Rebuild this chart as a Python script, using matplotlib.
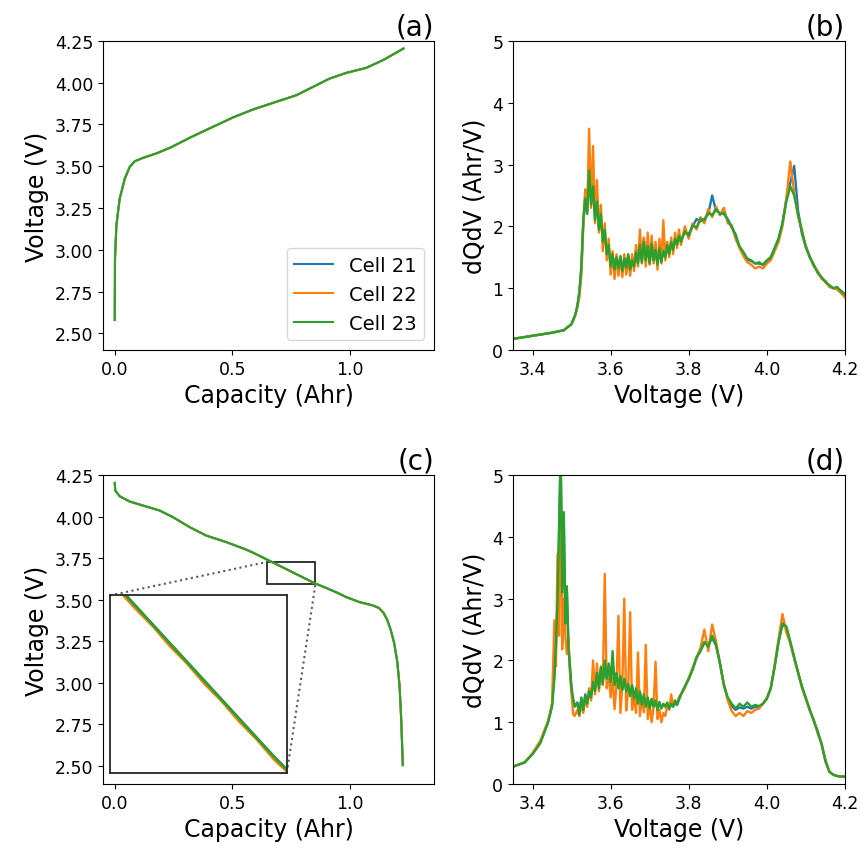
import matplotlib
matplotlib.use("Agg")
import matplotlib.pyplot as plt
from mpl_toolkits.axes_grid1.inset_locator import mark_inset

# cell names and default colours (tab10 blue / orange / green)
cells = ["Cell 21", "Cell 22", "Cell 23"]
colors = ["C0", "C1", "C2"]

# ---------- (a) charge curve ----------
charge_q = [0.0, 0.001, 0.007, 0.021, 0.043, 0.064, 0.085, 0.12, 0.177, 0.234,
            0.333, 0.418, 0.503, 0.589, 0.688, 0.773, 0.844, 0.915, 0.986,
            1.071, 1.142, 1.199, 1.23]
charge_v_21 = [2.58, 2.95, 3.148, 3.307, 3.427, 3.497, 3.53, 3.55, 3.577, 3.61,
               3.68, 3.736, 3.792, 3.84, 3.886, 3.925, 3.975, 4.025, 4.059,
               4.089, 4.135, 4.18, 4.205]
charge_v_22 = [2.58, 2.95, 3.147, 3.306, 3.426, 3.496, 3.529, 3.549, 3.576, 3.609,
               3.679, 3.735, 3.791, 3.839, 3.885, 3.924, 3.974, 4.024, 4.058,
               4.088, 4.134, 4.179, 4.205]
charge_v_23 = [2.58, 2.95, 3.148, 3.307, 3.427, 3.497, 3.53, 3.55, 3.577, 3.61,
               3.68, 3.736, 3.792, 3.84, 3.886, 3.925, 3.975, 4.025, 4.059,
               4.089, 4.135, 4.18, 4.205]

# ---------- (c) discharge curve ----------
discharge_q = [0.0, 0.002, 0.021, 0.064, 0.12, 0.191, 0.248, 0.319, 0.39, 0.475,
               0.56, 0.60, 0.64, 0.66, 0.68, 0.70, 0.72, 0.74, 0.76, 0.78, 0.80,
               0.82, 0.84, 0.86, 0.88, 0.901, 0.95, 0.986, 1.043, 1.099, 1.125,
               1.145, 1.16, 1.175, 1.19, 1.203, 1.213, 1.22, 1.227]
discharge_v_21 = [4.202, 4.156, 4.122, 4.09, 4.066, 4.036, 3.996, 3.936, 3.885, 3.846,
                  3.801, 3.775, 3.747, 3.733, 3.719, 3.705, 3.691, 3.677, 3.663, 3.649, 3.635,
                  3.621, 3.607, 3.594, 3.582, 3.570, 3.540, 3.515, 3.485, 3.465, 3.450,
                  3.420, 3.380, 3.320, 3.240, 3.130, 2.984, 2.784, 2.504]
discharge_v_22 = [4.202, 4.156, 4.122, 4.09, 4.066, 4.036, 3.996, 3.936, 3.885, 3.846,
                  3.800, 3.774, 3.745, 3.731, 3.717, 3.704, 3.689, 3.676, 3.661, 3.648, 3.633,
                  3.620, 3.605, 3.593, 3.581, 3.569, 3.539, 3.514, 3.484, 3.464, 3.449,
                  3.419, 3.379, 3.319, 3.239, 3.129, 2.983, 2.783, 2.503]
discharge_v_23 = [4.202, 4.156, 4.122, 4.09, 4.066, 4.036, 3.996, 3.936, 3.885, 3.846,
                  3.801, 3.775, 3.747, 3.733, 3.719, 3.705, 3.691, 3.677, 3.663, 3.649, 3.635,
                  3.621, 3.607, 3.594, 3.582, 3.570, 3.540, 3.515, 3.485, 3.465, 3.450,
                  3.420, 3.380, 3.320, 3.240, 3.130, 2.984, 2.784, 2.504]

# zoomed window shown in the inset of (c)
zoom_q = (0.65, 0.855)
zoom_v = (3.595, 3.727)
# inset placement in data units of panel (c): x0, y0, width, height
inset_box = (-0.021, 2.458, 0.754, 1.067)

# ---------- (b) dQ/dV on charge ----------
volt_b = [3.35, 3.40, 3.45, 3.48, 3.50, 3.51, 3.515, 3.52, 3.525,
          3.530, 3.535, 3.540, 3.545, 3.550, 3.555, 3.560, 3.565, 3.570, 3.575,
          3.580, 3.585, 3.590, 3.595, 3.600, 3.605, 3.610, 3.615, 3.620, 3.625,
          3.630, 3.635, 3.640, 3.645, 3.650, 3.655, 3.660, 3.665, 3.670, 3.675,
          3.680, 3.685, 3.690, 3.695, 3.700, 3.705, 3.710, 3.715, 3.720, 3.725,
          3.730, 3.735, 3.740, 3.745, 3.750, 3.755, 3.760, 3.765, 3.770, 3.775,
          3.780, 3.79, 3.80, 3.81, 3.82, 3.83, 3.84, 3.85, 3.86, 3.87, 3.88,
          3.89, 3.90, 3.91, 3.92, 3.93, 3.94, 3.95, 3.96, 3.97, 3.98, 3.99,
          4.00, 4.01, 4.02, 4.03, 4.04, 4.05, 4.06, 4.07, 4.08, 4.09, 4.10,
          4.11, 4.12, 4.13, 4.14, 4.15, 4.16, 4.17, 4.18, 4.19, 4.20]
dqdv_b_21 = [0.18, 0.23, 0.28, 0.32, 0.42, 0.58, 0.72, 0.93, 1.32,
             2.05, 2.50, 2.25, 2.80, 2.40, 2.60, 2.15, 2.35, 1.98, 2.15,
             1.80, 1.90, 1.58, 1.65, 1.38, 1.52, 1.32, 1.48, 1.35, 1.50,
             1.30, 1.45, 1.35, 1.52, 1.33, 1.48, 1.38, 1.62, 1.42, 1.72,
             1.45, 1.80, 1.48, 1.70, 1.42, 1.75, 1.48, 1.65, 1.40, 1.62,
             1.45, 1.62, 1.52, 1.68, 1.57, 1.72, 1.64, 1.78, 1.72, 1.83,
             1.78, 1.90, 1.88, 2.00, 2.12, 2.08, 2.12, 2.20, 2.50, 2.25, 2.22,
             2.20, 2.12, 1.98, 1.87, 1.66, 1.58, 1.46, 1.44, 1.40, 1.40, 1.38,
             1.44, 1.50, 1.64, 1.80, 2.05, 2.45, 2.70, 2.98, 2.25, 1.88, 1.66,
             1.50, 1.38, 1.26, 1.17, 1.10, 1.04, 1.00, 1.00, 0.96, 0.90]
dqdv_b_22 = [0.18, 0.23, 0.28, 0.32, 0.42, 0.57, 0.70, 0.85, 1.20,
             2.00, 2.60, 2.25, 3.58, 2.30, 3.30, 2.05, 2.75, 1.90, 2.35,
             1.60, 2.05, 1.45, 1.80, 1.22, 1.60, 1.15, 1.55, 1.20, 1.50,
             1.18, 1.55, 1.22, 1.50, 1.20, 1.55, 1.28, 1.70, 1.35, 1.95,
             1.40, 1.82, 1.35, 1.90, 1.38, 1.85, 1.40, 1.75, 1.30, 1.80,
             1.40, 2.10, 1.45, 1.75, 1.50, 1.82, 1.55, 1.90, 1.65, 1.95,
             1.70, 2.00, 1.80, 2.05, 1.95, 2.15, 2.05, 2.28, 2.15, 2.32, 2.18,
             2.30, 2.05, 2.02, 1.80, 1.65, 1.52, 1.42, 1.38, 1.32, 1.35, 1.32,
             1.40, 1.45, 1.60, 1.75, 2.00, 2.45, 3.05, 2.55, 2.15, 1.95, 1.65,
             1.52, 1.35, 1.28, 1.15, 1.12, 1.02, 1.00, 0.98, 0.92, 0.85]
dqdv_b_23 = [0.18, 0.23, 0.28, 0.32, 0.42, 0.58, 0.72, 0.95, 1.35,
             2.10, 2.45, 2.20, 2.90, 2.35, 2.65, 2.10, 2.40, 1.95, 2.20,
             1.75, 1.95, 1.55, 1.70, 1.35, 1.55, 1.30, 1.50, 1.32, 1.52,
             1.28, 1.48, 1.33, 1.55, 1.30, 1.45, 1.35, 1.58, 1.40, 1.70,
             1.42, 1.75, 1.45, 1.68, 1.40, 1.72, 1.45, 1.62, 1.38, 1.65,
             1.42, 1.60, 1.50, 1.70, 1.55, 1.75, 1.62, 1.80, 1.70, 1.85,
             1.75, 1.92, 1.85, 2.02, 1.98, 2.12, 2.10, 2.22, 2.18, 2.28, 2.20,
             2.22, 2.10, 2.00, 1.85, 1.68, 1.58, 1.48, 1.45, 1.40, 1.42, 1.38,
             1.45, 1.50, 1.65, 1.80, 2.05, 2.40, 2.65, 2.50, 2.20, 1.90, 1.68,
             1.50, 1.38, 1.25, 1.18, 1.10, 1.05, 1.00, 1.02, 0.95, 0.90]

# ---------- (d) dQ/dV on discharge ----------
volt_d = [3.35, 3.38, 3.40, 3.42, 3.44, 3.45, 3.456, 3.460, 3.464, 3.468,
          3.472, 3.476, 3.480, 3.484, 3.488, 3.492, 3.496, 3.500, 3.504, 3.508,
          3.515, 3.520, 3.525, 3.530, 3.535, 3.540, 3.545, 3.550, 3.555, 3.560,
          3.565, 3.570, 3.575, 3.580, 3.585, 3.590, 3.595, 3.600, 3.605, 3.610,
          3.615, 3.620, 3.625, 3.630, 3.635, 3.640, 3.645, 3.650, 3.655, 3.660,
          3.665, 3.670, 3.675, 3.680, 3.685, 3.690, 3.695, 3.700, 3.705, 3.710,
          3.715, 3.720, 3.725, 3.730, 3.735, 3.740, 3.745, 3.750, 3.755, 3.760,
          3.765, 3.770, 3.775, 3.780, 3.79, 3.80, 3.81, 3.82, 3.83, 3.84, 3.85,
          3.86, 3.87, 3.88, 3.89, 3.90, 3.91, 3.92, 3.93, 3.94, 3.95, 3.96,
          3.97, 3.98, 3.99, 4.00, 4.01, 4.02, 4.03, 4.04, 4.05, 4.06, 4.07,
          4.08, 4.09, 4.10, 4.11, 4.12, 4.13, 4.14, 4.15, 4.16, 4.17, 4.18,
          4.19, 4.20]
dqdv_d_21 = [0.28, 0.35, 0.49, 0.68, 1.01, 1.28, 1.80, 2.20, 3.00, 4.00,
             5.30, 3.20, 4.30, 2.70, 3.10, 2.25, 1.85, 1.50, 1.36, 1.26,
             1.32, 1.15, 1.38, 1.22, 1.45, 1.32, 1.52, 1.42, 1.68, 1.55,
             1.78, 1.60, 1.85, 1.66, 1.90, 1.72, 1.88, 1.68, 1.98, 1.62,
             1.78, 1.58, 1.72, 1.55, 1.68, 1.52, 1.60, 1.45, 1.58, 1.40,
             1.52, 1.33, 1.48, 1.30, 1.42, 1.27, 1.38, 1.25, 1.36, 1.26,
             1.33, 1.22, 1.30, 1.24, 1.28, 1.26, 1.30, 1.24, 1.28, 1.26,
             1.32, 1.28, 1.36, 1.44, 1.57, 1.70, 1.86, 2.04, 2.16, 2.28, 2.25,
             2.36, 2.24, 1.95, 1.60, 1.38, 1.26, 1.20, 1.24, 1.22, 1.25, 1.22,
             1.25, 1.25, 1.30, 1.38, 1.55, 1.90, 2.30, 2.58, 2.52, 2.30, 2.05,
             1.80, 1.57, 1.38, 1.20, 1.03, 0.85, 0.65, 0.38, 0.20, 0.15, 0.13,
             0.12, 0.12]
dqdv_d_22 = [0.28, 0.35, 0.50, 0.70, 1.02, 1.30, 2.65, 1.90, 3.72, 2.40,
             5.40, 2.18, 3.00, 2.40, 2.10, 2.35, 1.80, 1.45, 1.13, 1.10,
             1.20, 1.10, 1.30, 1.15, 1.40, 1.25, 1.55, 1.35, 2.00, 1.45,
             1.95, 1.50, 1.85, 1.60, 3.40, 1.55, 1.80, 1.40, 1.75, 1.21,
             1.60, 2.72, 1.15, 1.60, 3.00, 1.19, 1.55, 2.78, 1.20, 1.45,
             1.15, 2.13, 1.10, 1.40, 1.16, 2.25, 1.05, 1.30, 1.00, 1.25,
             1.98, 1.05, 1.20, 1.00, 1.15, 1.10, 1.28, 1.20, 1.45, 1.28,
             1.35, 1.30, 1.40, 1.45, 1.55, 1.72, 1.88, 2.05, 2.20, 2.50, 2.15,
             2.58, 2.30, 1.95, 1.62, 1.35, 1.18, 1.10, 1.15, 1.10, 1.18, 1.15,
             1.20, 1.22, 1.30, 1.40, 1.55, 1.92, 2.35, 2.75, 2.45, 2.28, 2.02,
             1.82, 1.55, 1.40, 1.18, 1.05, 0.82, 0.66, 0.36, 0.20, 0.15, 0.13,
             0.12, 0.12]
dqdv_d_23 = [0.28, 0.35, 0.48, 0.66, 1.00, 1.25, 1.70, 2.30, 2.95, 4.20,
             5.40, 3.10, 4.40, 2.60, 3.20, 2.20, 1.90, 1.55, 1.38, 1.25,
             1.30, 1.12, 1.40, 1.20, 1.42, 1.30, 1.50, 1.40, 1.65, 1.50,
             1.80, 1.55, 1.90, 1.62, 2.00, 1.70, 1.95, 1.65, 2.15, 1.60,
             1.80, 1.55, 1.75, 1.52, 1.70, 1.50, 1.62, 1.42, 1.60, 1.38,
             1.55, 1.30, 1.50, 1.28, 1.45, 1.25, 1.40, 1.22, 1.38, 1.25,
             1.35, 1.20, 1.33, 1.22, 1.30, 1.25, 1.32, 1.22, 1.30, 1.25,
             1.35, 1.28, 1.38, 1.45, 1.58, 1.70, 1.85, 2.05, 2.15, 2.30, 2.22,
             2.40, 2.25, 1.95, 1.60, 1.40, 1.30, 1.22, 1.30, 1.25, 1.32, 1.25,
             1.28, 1.26, 1.30, 1.38, 1.55, 1.90, 2.30, 2.60, 2.55, 2.30, 2.05,
             1.80, 1.58, 1.38, 1.20, 1.02, 0.85, 0.65, 0.38, 0.20, 0.15, 0.13,
             0.12, 0.12]

TICK_FS = 12.5
LABEL_FS = 17
PANEL_FS = 20

fig = plt.figure(figsize=(8.6, 8.53), dpi=100)

# axes placed to match the reference layout (figure fractions)
ax_a = fig.add_axes([0.1198, 0.5885, 0.3849, 0.3623])
ax_b = fig.add_axes([0.5965, 0.5885, 0.3860, 0.3623])
ax_c = fig.add_axes([0.1198, 0.0797, 0.3849, 0.3623])
ax_d = fig.add_axes([0.5965, 0.0797, 0.3860, 0.3623])

# (a) voltage vs capacity on charge
for v, name, c in zip([charge_v_21, charge_v_22, charge_v_23], cells, colors):
    ax_a.plot(charge_q, v, color=c, lw=1.5, label=name)
ax_a.set_xlim(-0.05, 1.36)
ax_a.set_ylim(2.40, 4.25)
ax_a.set_yticks([2.50, 2.75, 3.00, 3.25, 3.50, 3.75, 4.00, 4.25])
ax_a.set_xticks([0.0, 0.5, 1.0])
ax_a.set_xlabel("Capacity (Ahr)", fontsize=LABEL_FS)
ax_a.set_ylabel("Voltage (V)", fontsize=LABEL_FS)
ax_a.legend(loc="lower right", fontsize=14)

# (b) dQdV on charge
for d, name, c in zip([dqdv_b_21, dqdv_b_22, dqdv_b_23], cells, colors):
    ax_b.plot(volt_b, d, color=c, lw=1.7, label=name)
ax_b.set_xlim(3.35, 4.2)
ax_b.set_ylim(0, 5)
ax_b.set_xticks([3.4, 3.6, 3.8, 4.0, 4.2])
ax_b.set_xlabel("Voltage (V)", fontsize=LABEL_FS)
ax_b.set_ylabel("dQdV (Ahr/V)", fontsize=LABEL_FS)

# (c) voltage vs capacity on discharge, with zoomed inset
dis_vs = [discharge_v_21, discharge_v_22, discharge_v_23]
for v, name, c in zip(dis_vs, cells, colors):
    ax_c.plot(discharge_q, v, color=c, lw=1.5, label=name)
ax_c.set_xlim(-0.05, 1.36)
ax_c.set_ylim(2.39, 4.25)
ax_c.set_yticks([2.50, 2.75, 3.00, 3.25, 3.50, 3.75, 4.00, 4.25])
ax_c.set_xticks([0.0, 0.5, 1.0])
ax_c.set_xlabel("Capacity (Ahr)", fontsize=LABEL_FS)
ax_c.set_ylabel("Voltage (V)", fontsize=LABEL_FS)

axins = ax_c.inset_axes(list(inset_box), transform=ax_c.transData)
for v, c in zip(dis_vs, colors):
    axins.plot(discharge_q, v, color=c, lw=2)
axins.set_xlim(*zoom_q)
axins.set_ylim(*zoom_v)
axins.set_xticks([])
axins.set_yticks([])
for s in axins.spines.values():
    s.set_linewidth(1.3)
    s.set_color("0.15")
pp, p1, p2 = mark_inset(ax_c, axins, loc1=2, loc2=4, fc="none", ec="0.15", lw=1.3)
for p in (p1, p2):
    p.set_linestyle(":")
    p.set_edgecolor("0.35")
    p.set_linewidth(1.5)

# (d) dQdV on discharge
for d, name, c in zip([dqdv_d_21, dqdv_d_22, dqdv_d_23], cells, colors):
    ax_d.plot(volt_d, d, color=c, lw=1.7, label=name)
ax_d.set_xlim(3.35, 4.2)
ax_d.set_ylim(0, 5)
ax_d.set_xticks([3.4, 3.6, 3.8, 4.0, 4.2])
ax_d.set_xlabel("Voltage (V)", fontsize=LABEL_FS)
ax_d.set_ylabel("dQdV (Ahr/V)", fontsize=LABEL_FS)

for ax, tag in zip([ax_a, ax_b, ax_c, ax_d], ["(a)", "(b)", "(c)", "(d)"]):
    ax.tick_params(labelsize=TICK_FS)
    ax.set_title(tag, loc="right", fontsize=PANEL_FS, pad=4)

fig.savefig("out.png", dpi=100)
